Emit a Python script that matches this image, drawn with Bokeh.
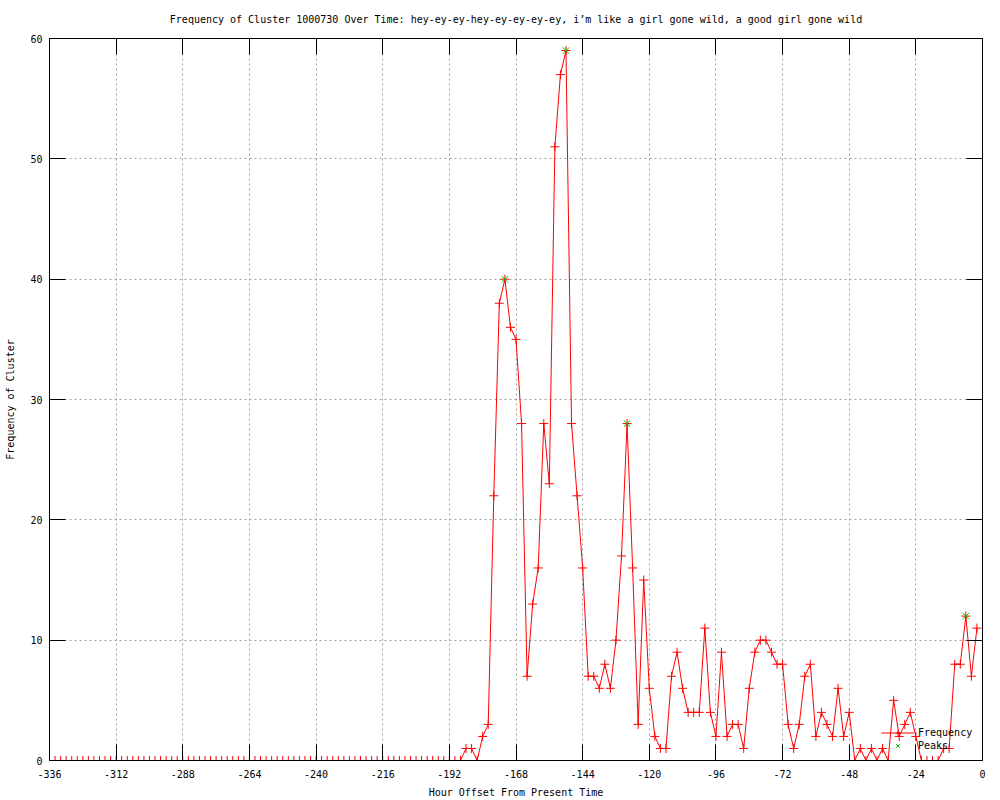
from bokeh.plotting import figure
from bokeh.models import (Range1d, FixedTicker, LinearAxis, Legend, LegendItem,
                          CustomLabelingPolicy)
from bokeh.embed import file_html
from bokeh.resources import INLINE

# ---- data ----
hours = list(range(-336, 0, 2))
frequency = [
    0, 0, 0, 0, 0, 0, 0, 0, 0, 0, 0, 0, 0, 0, 0, 0, 0, 0, 0, 0, 0, 0, 0, 0, 0,
    0, 0, 0, 0, 0, 0, 0, 0, 0, 0, 0, 0, 0, 0, 0, 0, 0, 0, 0, 0, 0, 0, 0, 0, 0,
    0, 0, 0, 0, 0, 0, 0, 0, 0, 0, 0, 0, 0, 0, 0, 0, 0, 0, 0, 0, 0, 0, 0, 0, 0,
    1, 1, 0, 2, 3, 22, 38, 40, 36, 35, 28, 7, 13, 16, 28, 23, 51, 57, 59,
    28, 22, 16, 7, 7, 6, 8, 6, 10, 17, 28, 16, 3, 15, 6, 2, 1, 1, 7, 9, 6, 4, 4, 4, 11,
    4, 2, 9, 2, 3, 3, 1, 6, 9, 10, 10, 9, 8, 8, 3, 1, 3, 7, 8, 2, 4, 3, 2, 6, 2,
    4, 0, 1, 0, 1, 0, 1, 0, 5, 2, 3, 4, 2, 0, 0, 0, 0, 1, 1, 8, 8, 12, 7, 11,
]
peak_hours = [-172, -150, -128, -6]
peak_values = [40, 59, 28, 12]
x_ticks = [-336, -312, -288, -264, -240, -216, -192, -168, -144, -120, -96, -72, -48, -24, 0]
x_tick_labels = ["-336", "-312", "-288", "-264", "-240", "-216", "-192", "-168",
                 "-144", "-120", "-96", "-72", "-48", "-24", "0"]
y_ticks = [0, 10, 20, 30, 40, 50, 60]
y_tick_labels = ["0", "10", "20", "30", "40", "50", "60"]

TITLE = ("Frequency of Cluster 1000730 Over Time: hey-ey-ey-hey-ey-ey-ey-ey, "
         "i\u2019m like a girl gone wild, a good girl gone wild")
FONT = "DejaVu Sans Mono"

p = figure(width=1000, height=800, output_backend="svg", toolbar_location=None,
           x_range=Range1d(-336, 0), y_range=Range1d(0, 60),
           min_border_left=49, min_border_right=18, min_border_top=38,
           min_border_bottom=40, title=TITLE)
p.background_fill_color = "white"
p.border_fill_color = "white"
p.outline_line_color = "black"
p.outline_line_width = 1
p.outline_line_alpha = 1

p.title.align = "center"
p.title.text_font = FONT
p.title.text_font_size = "10px"
p.title.text_font_style = "normal"
p.title.text_color = "black"
p.title.standoff = 20

xa = p.xaxis[0]
xa.ticker = FixedTicker(ticks=x_ticks)
xa.major_label_overrides = dict(zip(x_ticks, x_tick_labels))
xa.axis_label = "Hour Offset From Present Time"
ya = p.yaxis[0]
ya.ticker = FixedTicker(ticks=y_ticks)
ya.major_label_overrides = dict(zip(y_ticks, y_tick_labels))
ya.axis_label = "Frequency of Cluster"

for ax in (xa, ya):
    ax.major_tick_in = 16
    ax.major_tick_out = 0
    ax.minor_tick_in = 0
    ax.minor_tick_out = 0
    ax.axis_line_color = "black"
    ax.major_tick_line_color = "black"
    ax.major_label_text_font = FONT
    ax.major_label_text_font_size = "10px"
    ax.major_label_text_color = "black"
    ax.axis_label_text_font = FONT
    ax.axis_label_text_font_size = "10px"
    ax.axis_label_text_font_style = "normal"
    ax.axis_label_text_color = "black"
xa.major_label_standoff = 9
xa.axis_label_standoff = 6
ya.major_label_standoff = 7
ya.axis_label_standoff = 11

# mirrored ticks on top and right (no labels)
no_labels = CustomLabelingPolicy(code="return new Set()")
top = LinearAxis(ticker=FixedTicker(ticks=x_ticks))
right = LinearAxis(ticker=FixedTicker(ticks=y_ticks))
for ax in (top, right):
    ax.major_tick_in = 16
    ax.major_tick_out = 0
    ax.minor_tick_in = 0
    ax.minor_tick_out = 0
    ax.axis_line_color = "black"
    ax.major_tick_line_color = "black"
    ax.major_label_text_font_size = "1px"
    ax.major_label_standoff = 0
    ax.major_label_policy = no_labels
p.add_layout(top, "above")
p.add_layout(right, "right")

for g, t in ((p.xgrid[0], x_ticks), (p.ygrid[0], y_ticks)):
    g.ticker = FixedTicker(ticks=t)
    g.grid_line_color = "#a0a0a0"
    g.grid_line_dash = "2 3"
    g.grid_line_width = 1

line = p.line(hours, frequency, line_color="#ff0000", line_width=1)
pts = p.scatter(hours, frequency, marker="cross", size=9,
                line_color="#ff0000", line_width=1)
pk = p.scatter(peak_hours, peak_values, marker="x", size=9,
               line_color="#00c000", line_width=1)

legend = Legend(items=[LegendItem(label="Frequency", renderers=[line, pts]),
                       LegendItem(label="Peaks", renderers=[pk])],
                location=(832, 8), margin=0, padding=0, spacing=0,
                label_text_font=FONT, label_text_font_size="10px",
                label_text_color="black",
                label_height=13, glyph_height=13, glyph_width=33,
                label_standoff=4,
                background_fill_alpha=0, border_line_alpha=0)
p.add_layout(legend)

open("out.html", "w").write(file_html(p, INLINE))
